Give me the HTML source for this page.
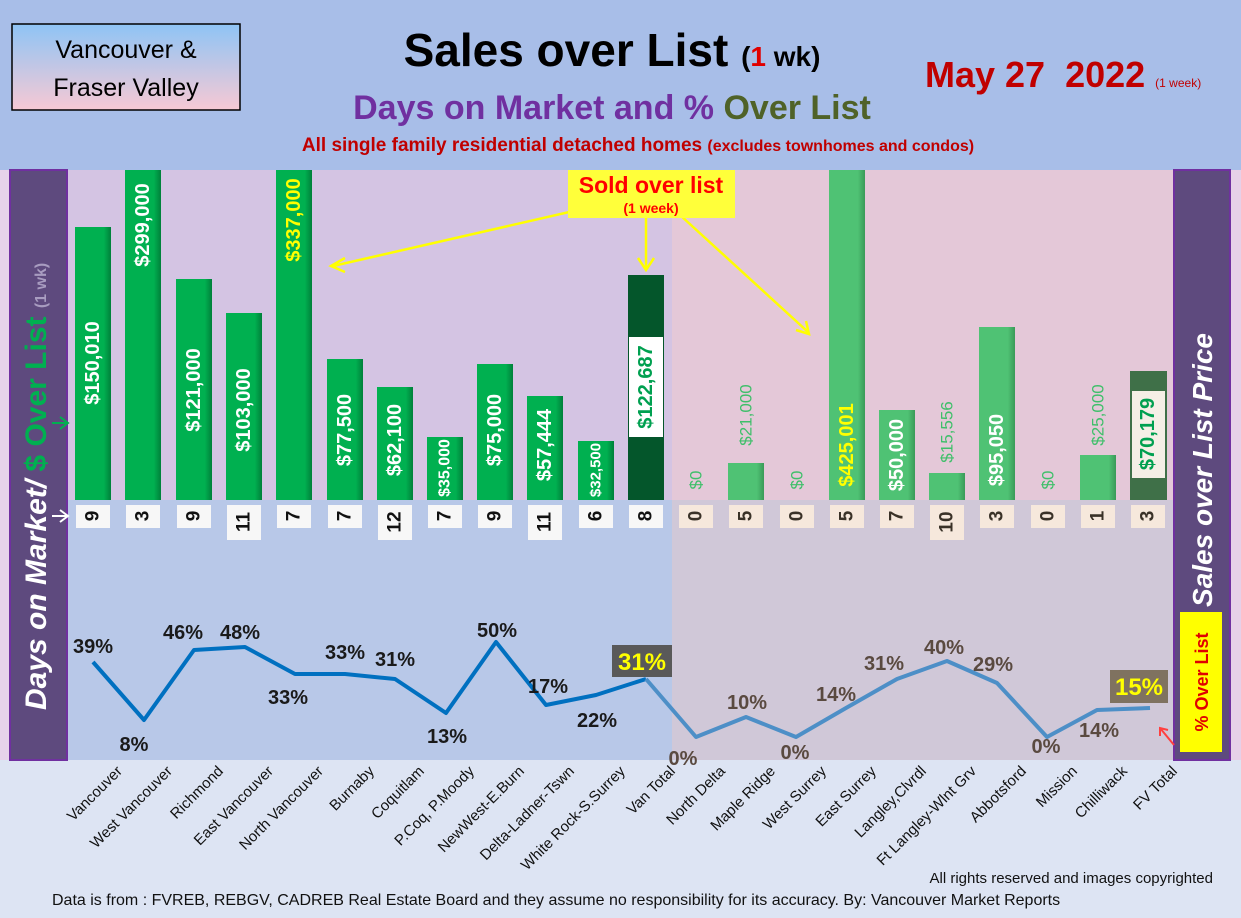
<!DOCTYPE html>
<html><head><meta charset="utf-8"><style>
html,body{margin:0;padding:0;background:#dde4f3;}
svg{display:block;font-family:"Liberation Sans",sans-serif;}
</style></head><body>
<svg width="1241" height="918" viewBox="0 0 1241 918" xmlns="http://www.w3.org/2000/svg">
<defs>
<linearGradient id="box" x1="0" y1="0" x2="0" y2="1"><stop offset="0" stop-color="#8ec4f5"/><stop offset="1" stop-color="#f7c9d4"/></linearGradient>
<linearGradient id="gL" x1="0" y1="0" x2="1" y2="0"><stop offset="0" stop-color="#00b050"/><stop offset="0.8" stop-color="#00b050"/><stop offset="1" stop-color="#00803a"/></linearGradient>
<linearGradient id="gR" x1="0" y1="0" x2="1" y2="0"><stop offset="0" stop-color="#4fc274"/><stop offset="0.8" stop-color="#4fc274"/><stop offset="1" stop-color="#3a9a58"/></linearGradient>
</defs>
<rect width="1241" height="918" fill="#dde4f3"/>
<rect width="1241" height="170" fill="#a8bee8"/>
<rect x="0" y="170" width="10" height="590" fill="#e6d3ea"/>
<rect x="1230" y="170" width="11" height="590" fill="#e6d0e8"/>
<rect x="68" y="170" width="604" height="330" fill="#d4c4e3"/>
<rect x="68" y="500" width="604" height="260" fill="#b8c8e8"/>
<rect x="672" y="170" width="501" height="330" fill="#e4c8d8"/>
<rect x="672" y="500" width="501" height="260" fill="#d0c8d8"/>
<rect x="10" y="170" width="57" height="590" fill="#5e4a7e" stroke="#7030a0" stroke-width="2"/>
<rect x="1174" y="170" width="56" height="590" fill="#5e4a7e" stroke="#7030a0" stroke-width="2"/>

<!-- header -->
<rect x="12" y="24" width="228" height="86" fill="url(#box)" stroke="#000" stroke-width="1.5"/>
<text x="126" y="58" font-size="25" text-anchor="middle" fill="#000">Vancouver &amp;</text>
<text x="126" y="96" font-size="25" text-anchor="middle" fill="#000">Fraser Valley</text>
<text x="612" y="66" font-size="46" font-weight="bold" text-anchor="middle" fill="#000">Sales over List <tspan font-size="28">(<tspan fill="#e00000">1</tspan> wk)</tspan></text>
<text x="612" y="119" font-size="34" font-weight="bold" text-anchor="middle" fill="#7030a0">Days on Market and % <tspan fill="#4f6228">Over List</tspan></text>
<text x="638" y="151" font-size="19" font-weight="bold" text-anchor="middle" fill="#c00000">All single family residential detached homes <tspan font-size="16">(excludes townhomes and condos)</tspan></text>
<text x="925" y="87" font-size="36" font-weight="bold" fill="#c00000" xml:space="preserve">May 27  2022 <tspan font-size="12" font-weight="normal">(1 week)</tspan></text>

<!-- side labels -->
<text transform="translate(46,710) rotate(-90)" font-size="30" font-weight="bold" font-style="italic" fill="#fff">Days on Market/ <tspan fill="#00b050" font-style="normal">$ Over List</tspan> <tspan fill="#a89cc0" font-size="16" font-style="normal">(1 wk)</tspan></text>
<text transform="translate(1212,470) rotate(-90)" font-size="28" font-weight="bold" font-style="italic" fill="#fff" text-anchor="middle">Sales over List Price</text>
<path d="M52,423 L68,423 M60,417 L68,423 L60,429" stroke="#00b050" stroke-width="2" fill="none"/>
<path d="M52,516 L68,516 M60,510 L68,516 L60,522" stroke="#fff" stroke-width="2" fill="none"/>

<!-- bars -->
<g>
<rect x="75" y="227" width="36" height="273" fill="url(#gL)"/>
<rect x="125" y="170" width="36" height="330" fill="url(#gL)"/>
<rect x="176" y="279" width="36" height="221" fill="url(#gL)"/>
<rect x="226" y="313" width="36" height="187" fill="url(#gL)"/>
<rect x="276" y="170" width="36" height="330" fill="url(#gL)"/>
<rect x="327" y="359" width="36" height="141" fill="url(#gL)"/>
<rect x="377" y="387" width="36" height="113" fill="url(#gL)"/>
<rect x="427" y="437" width="36" height="63" fill="url(#gL)"/>
<rect x="477" y="364" width="36" height="136" fill="url(#gL)"/>
<rect x="527" y="396" width="36" height="104" fill="url(#gL)"/>
<rect x="578" y="441" width="36" height="59" fill="url(#gL)"/>
<rect x="628" y="275" width="36" height="225" fill="#04562b"/>
<rect x="728" y="463" width="36" height="37" fill="url(#gR)"/>
<rect x="829" y="170" width="36" height="330" fill="url(#gR)"/>
<rect x="879" y="410" width="36" height="90" fill="url(#gR)"/>
<rect x="929" y="473" width="36" height="27" fill="url(#gR)"/>
<rect x="979" y="327" width="36" height="173" fill="url(#gR)"/>
<rect x="1080" y="455" width="36" height="45" fill="url(#gR)"/>
<rect x="1130" y="371" width="37" height="129" fill="#3f7048"/>
<rect x="629" y="337" width="34" height="100" fill="#fff"/>
<rect x="1132" y="391" width="33" height="87" fill="#f5efe6"/>
</g>
<g font-size="20" font-weight="bold" text-anchor="middle" dominant-baseline="central" fill="#fff">
<text transform="translate(93,363) rotate(-90)">$150,010</text>
<text transform="translate(143,225) rotate(-90)">$299,000</text>
<text transform="translate(194,390) rotate(-90)">$121,000</text>
<text transform="translate(244,410) rotate(-90)">$103,000</text>
<text transform="translate(294,220) rotate(-90)" fill="#ffff00">$337,000</text>
<text transform="translate(345,430) rotate(-90)">$77,500</text>
<text transform="translate(395,440) rotate(-90)">$62,100</text>
<text transform="translate(445,468) rotate(-90)" font-size="16">$35,000</text>
<text transform="translate(495,430) rotate(-90)">$75,000</text>
<text transform="translate(545,445) rotate(-90)">$57,444</text>
<text transform="translate(596,470) rotate(-90)" font-size="15">$32,500</text>
<text transform="translate(646,387) rotate(-90)" fill="#00a050">$122,687</text>
<text transform="translate(847,445) rotate(-90)" fill="#ffff00">$425,001</text>
<text transform="translate(897,455) rotate(-90)">$50,000</text>
<text transform="translate(997,450) rotate(-90)">$95,050</text>
<text transform="translate(1148,434) rotate(-90)" fill="#00a050">$70,179</text>
</g>
<g font-size="17" text-anchor="middle" dominant-baseline="central" fill="#3fbf6a">
<text transform="translate(696,480) rotate(-90)">$0</text>
<text transform="translate(746,415) rotate(-90)">$21,000</text>
<text transform="translate(797,480) rotate(-90)">$0</text>
<text transform="translate(947,432) rotate(-90)">$15,556</text>
<text transform="translate(1048,480) rotate(-90)">$0</text>
<text transform="translate(1098,415) rotate(-90)">$25,000</text>
</g>

<!-- days boxes -->
<g fill="#f7f7f7">
<rect x="76" y="505" width="34" height="23"/><rect x="126" y="505" width="34" height="23"/><rect x="177" y="505" width="34" height="23"/><rect x="227" y="505" width="34" height="35"/><rect x="277" y="505" width="34" height="23"/><rect x="328" y="505" width="34" height="23"/><rect x="378" y="505" width="34" height="35"/><rect x="428" y="505" width="34" height="23"/><rect x="478" y="505" width="34" height="23"/><rect x="528" y="505" width="34" height="35"/><rect x="579" y="505" width="34" height="23"/><rect x="629" y="505" width="34" height="23"/>
</g>
<g fill="#f6e8dc">
<rect x="679" y="505" width="34" height="23"/><rect x="729" y="505" width="34" height="23"/><rect x="780" y="505" width="34" height="23"/><rect x="830" y="505" width="34" height="23"/><rect x="880" y="505" width="34" height="23"/><rect x="930" y="505" width="34" height="35"/><rect x="980" y="505" width="34" height="23"/><rect x="1031" y="505" width="34" height="23"/><rect x="1081" y="505" width="34" height="23"/><rect x="1131" y="505" width="34" height="23"/>
</g>
<g font-size="19" font-weight="bold" text-anchor="middle" dominant-baseline="central" fill="#111">
<text transform="translate(93,516) rotate(-90)">9</text><text transform="translate(143,516) rotate(-90)">3</text><text transform="translate(194,516) rotate(-90)">9</text><text transform="translate(244,522) rotate(-90)">11</text><text transform="translate(294,516) rotate(-90)">7</text><text transform="translate(345,516) rotate(-90)">7</text><text transform="translate(395,522) rotate(-90)">12</text><text transform="translate(445,516) rotate(-90)">7</text><text transform="translate(495,516) rotate(-90)">9</text><text transform="translate(545,522) rotate(-90)">11</text><text transform="translate(596,516) rotate(-90)">6</text><text transform="translate(646,516) rotate(-90)">8</text>
</g>
<g font-size="19" font-weight="bold" text-anchor="middle" dominant-baseline="central" fill="#3a3228">
<text transform="translate(696,516) rotate(-90)">0</text><text transform="translate(746,516) rotate(-90)">5</text><text transform="translate(797,516) rotate(-90)">0</text><text transform="translate(847,516) rotate(-90)">5</text><text transform="translate(897,516) rotate(-90)">7</text><text transform="translate(947,522) rotate(-90)">10</text><text transform="translate(997,516) rotate(-90)">3</text><text transform="translate(1048,516) rotate(-90)">0</text><text transform="translate(1098,516) rotate(-90)">1</text><text transform="translate(1148,516) rotate(-90)">3</text>
</g>

<!-- line -->
<polyline points="93,662 144,720 194,650 245,647 295,674 345,674 395,679 446,713 496,642 546,705 596,695 646,679 " fill="none" stroke="#0070c0" stroke-width="4" stroke-linejoin="round"/>
<polyline points="646,679 696,737 746,717 796,737 846,708 897,679 947,661 997,683 1047,737 1097,710 1150,708" fill="none" stroke="#4d8fc7" stroke-width="4" stroke-linejoin="round"/>
<g font-size="20" font-weight="bold" text-anchor="middle" fill="#1a1a1a">
<text x="93" y="653">39%</text><text x="134" y="751">8%</text><text x="183" y="639">46%</text><text x="240" y="639">48%</text><text x="288" y="704">33%</text><text x="345" y="659">33%</text><text x="395" y="666">31%</text><text x="447" y="743">13%</text><text x="497" y="637">50%</text><text x="548" y="693">17%</text><text x="597" y="727">22%</text>
</g>
<g font-size="20" font-weight="bold" text-anchor="middle" fill="#5a4a40">
<text x="683" y="765">0%</text><text x="747" y="709">10%</text><text x="795" y="759">0%</text><text x="836" y="701">14%</text><text x="884" y="670">31%</text><text x="944" y="654">40%</text><text x="993" y="671">29%</text><text x="1046" y="753">0%</text><text x="1099" y="737">14%</text>
</g>
<rect x="612" y="645" width="60" height="32" fill="#595959"/>
<text x="642" y="670" font-size="24" font-weight="bold" text-anchor="middle" fill="#ffff00">31%</text>
<rect x="1110" y="670" width="58" height="33" fill="#7f7260"/>
<text x="1139" y="695" font-size="24" font-weight="bold" text-anchor="middle" fill="#ffff00">15%</text>
<rect x="1180" y="612" width="42" height="140" fill="#ffff00"/>
<text transform="translate(1208,682) rotate(-90)" font-size="18" font-weight="bold" text-anchor="middle" fill="#e00000">% Over List</text>
<path d="M1174,745 L1160,728 M1160,736 L1160,728 L1168,730" stroke="#ff4040" stroke-width="2" fill="none"/>

<!-- annotation -->
<path d="M646,215 L646,268 M638,258 L646,270 L654,258" stroke="#ffff00" stroke-width="2.5" fill="none"/>
<path d="M600,205 L333,266 M345,258 L331,266 L345,272" stroke="#ffff00" stroke-width="2.5" fill="none"/>
<path d="M680,215 L808,332 M796,330 L809,334 L806,321" stroke="#ffff00" stroke-width="2.5" fill="none"/>
<rect x="568" y="170" width="167" height="48" fill="#ffff3a"/>
<text x="651" y="193" font-size="23" font-weight="bold" text-anchor="middle" fill="#ff0000">Sold over list</text>
<text x="651" y="213" font-size="14" font-weight="bold" text-anchor="middle" fill="#ff0000">(1 week)</text>

<!-- x labels -->
<g font-size="15" text-anchor="end" fill="#111">
<text transform="translate(123,772) rotate(-45)">Vancouver</text>
<text transform="translate(173,772) rotate(-45)">West Vancouver</text>
<text transform="translate(224,772) rotate(-45)">Richmond</text>
<text transform="translate(274,772) rotate(-45)">East Vancouver</text>
<text transform="translate(324,772) rotate(-45)">North Vancouver</text>
<text transform="translate(375,772) rotate(-45)">Burnaby</text>
<text transform="translate(425,772) rotate(-45)">Coquitlam</text>
<text transform="translate(475,772) rotate(-45)">P.Coq, P.Moody</text>
<text transform="translate(525,772) rotate(-45)">NewWest-E.Burn</text>
<text transform="translate(575,772) rotate(-45)">Delta-Ladner-Tswn</text>
<text transform="translate(626,772) rotate(-45)">White Rock-S.Surrey</text>
<text transform="translate(676,772) rotate(-45)">Van Total</text>
<text transform="translate(726,772) rotate(-45)">North Delta</text>
<text transform="translate(776,772) rotate(-45)">Maple Ridge</text>
<text transform="translate(827,772) rotate(-45)">West Surrey</text>
<text transform="translate(877,772) rotate(-45)">East Surrey</text>
<text transform="translate(927,772) rotate(-45)">Langley,Clvrdl</text>
<text transform="translate(977,772) rotate(-45)">Ft Langley-Wlnt Grv</text>
<text transform="translate(1027,772) rotate(-45)">Abbotsford</text>
<text transform="translate(1078,772) rotate(-45)">Mission</text>
<text transform="translate(1128,772) rotate(-45)">Chilliwack</text>
<text transform="translate(1178,772) rotate(-45)">FV Total</text>
</g>
<text x="1213" y="883" font-size="15" text-anchor="end" fill="#111">All rights reserved and  images copyrighted</text>
<text x="52" y="905" font-size="16" fill="#111">Data is from : FVREB, REBGV, CADREB Real Estate Board and they assume no responsibility for its accuracy. By: Vancouver Market Reports</text>
</svg>
</body></html>
